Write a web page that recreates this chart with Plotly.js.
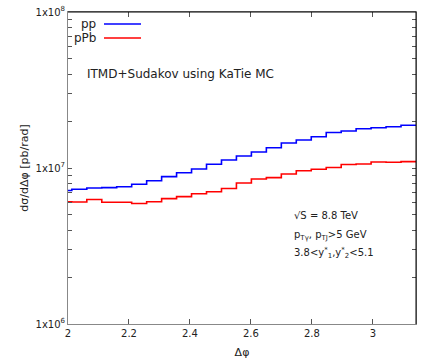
<!DOCTYPE html>
<html>
<head>
<meta charset="utf-8">
<script src="https://cdn.plot.ly/plotly-3.0.1.min.js"></script>
<style>html,body{margin:0;padding:0;background:#fff;}#chart{width:436px;height:363px;}</style>
</head>
<body>
<div id="chart"></div>
<script>
// Bin edges in Δφ (bins of width π/64)
const binEdges = [1.9635, 2.0126, 2.0617, 2.1108, 2.1598, 2.2089, 2.2580, 2.3071, 2.3562, 2.4053,
  2.4544, 2.5035, 2.5525, 2.6016, 2.6507, 2.6998, 2.7489, 2.7980, 2.8471, 2.8962,
  2.9452, 2.9943, 3.0434, 3.0925, 3.1416];
// dσ/dΔφ [pb/rad] per bin
const ppValues = [7.18e6, 7.30e6, 7.44e6, 7.48e6, 7.59e6, 7.86e6, 8.29e6, 8.80e6, 9.33e6, 9.85e6,
  1.056e7, 1.125e7, 1.194e7, 1.266e7, 1.349e7, 1.446e7, 1.512e7, 1.587e7, 1.689e7, 1.727e7,
  1.786e7, 1.813e7, 1.839e7, 1.878e7];
const pPbValues = [6.08e6, 6.06e6, 6.28e6, 6.03e6, 6.03e6, 5.92e6, 6.08e6, 6.36e6, 6.55e6, 6.84e6,
  7.05e6, 7.39e6, 8.01e6, 8.50e6, 8.67e6, 9.15e6, 9.61e6, 9.81e6, 1.007e7, 1.053e7,
  1.061e7, 1.093e7, 1.088e7, 1.098e7];
const seriesNames = ["pp", "pPb"];
const seriesColors = ["#0000ff", "#ff0000"];
const xTickVals = [2, 2.2, 2.4, 2.6, 2.8, 3];
const xTickText = ["2", "2.2", "2.4", "2.6", "2.8", "3"];
const yMajor = [1e6, 1e7, 1e8];
const yMajorText = ["1x10<sup>6</sup>", "1x10<sup>7</sup>", "1x10<sup>8</sup>"];
const infoLines = ["√S = 8.8 TeV", "p<sub>Tγ</sub>, p<sub>TJ</sub>&gt;5 GeV", "3.8&lt;y<sup>*</sup><sub>1</sub>,y<sup>*</sup><sub>2</sub>&lt;5.1"];
const titleText = "ITMD+Sudakov using KaTie MC";

// y tick values incl. minor ticks
const yTickVals = [], yTickText = [];
for (let d = 6; d <= 8; d++) {
  for (let m = 1; m <= 9; m++) {
    const v = m * Math.pow(10, d);
    if (v > 1e8) break;
    yTickVals.push(v);
    const idx = yMajor.indexOf(v);
    yTickText.push(idx >= 0 ? yMajorText[idx] : "");
  }
}

function stepY(vals) { return vals.concat([vals[vals.length - 1]]); }

const traces = [ppValues, pPbValues].map((vals, i) => ({
  x: binEdges, y: stepY(vals), type: "scatter", mode: "lines",
  line: {shape: "hv", color: seriesColors[i], width: 1.6},
  name: seriesNames[i], showlegend: false, hoverinfo: "skip"
}));

const W = 436, H = 363, L = 68, R = 20, T = 12, B = 39;
const pw = W - L - R, ph = H - T - B;
const px = v => (v - L) / pw;
const py = v => (H - B - v) / ph;
const font = "DejaVu Sans, sans-serif";
const txt = "#222";

const shapes = [
  {type: "line", xref: "paper", yref: "paper", x0: 0, x1: 1, y0: 1, y1: 1, line: {color: "#000", width: 1}, layer: "above"},
  {type: "line", xref: "paper", yref: "paper", x0: 1, x1: 1, y0: 0, y1: 1, line: {color: "#000", width: 1}, layer: "above"},
  {type: "line", xref: "paper", yref: "paper", x0: px(104), x1: px(141), y0: py(24), y1: py(24), line: {color: seriesColors[0], width: 1.6}},
  {type: "line", xref: "paper", yref: "paper", x0: px(104), x1: px(141), y0: py(38), y1: py(38), line: {color: seriesColors[1], width: 1.6}}
];

const annotations = [
  {xref: "paper", yref: "paper", x: px(98), y: py(24), xanchor: "right", yanchor: "middle", text: seriesNames[0], showarrow: false, font: {family: font, size: 12, color: txt}},
  {xref: "paper", yref: "paper", x: px(98), y: py(38), xanchor: "right", yanchor: "middle", text: seriesNames[1], showarrow: false, font: {family: font, size: 12, color: txt}},
  {xref: "paper", yref: "paper", x: px(85), y: py(74), xanchor: "left", yanchor: "middle", text: titleText, showarrow: false, font: {family: font, size: 12, color: txt}},
  {xref: "paper", yref: "paper", x: px(292), y: py(215), xanchor: "left", yanchor: "middle", text: infoLines[0], showarrow: false, font: {family: font, size: 10, color: txt}},
  {xref: "paper", yref: "paper", x: px(292), y: py(235), xanchor: "left", yanchor: "middle", text: infoLines[1], showarrow: false, font: {family: font, size: 10, color: txt}},
  {xref: "paper", yref: "paper", x: px(292), y: py(253), xanchor: "left", yanchor: "middle", text: infoLines[2], showarrow: false, font: {family: font, size: 10, color: txt}}
];

const layout = {
  width: W, height: H,
  margin: {l: L, r: R, t: T, b: B, pad: 0},
  paper_bgcolor: "#fff", plot_bgcolor: "#fff",
  font: {family: font, size: 10, color: txt},
  showlegend: false,
  xaxis: {
    range: [2, Math.PI], tickmode: "array", tickvals: xTickVals, ticktext: xTickText,
    ticks: "inside", ticklen: 5, tickcolor: "#555", showline: true, linecolor: "#888", linewidth: 1,
    mirror: "ticks", showgrid: false, zeroline: false,
    tickfont: {family: font, size: 10, color: txt},
    title: {text: "Δφ", font: {family: font, size: 11, color: txt}, standoff: 10},
    automargin: false
  },
  yaxis: {
    type: "log", range: [6, 8], tickmode: "array", tickvals: yTickVals, ticktext: yTickText,
    ticks: "inside", ticklen: 4, tickcolor: "#555", showline: true, linecolor: "#888", linewidth: 1,
    mirror: "ticks", showgrid: false, zeroline: false,
    tickfont: {family: font, size: 10, color: txt},
    title: {text: "dσ/dΔφ [pb/rad]", font: {family: font, size: 11, color: txt}, standoff: 4},
    automargin: false
  },
  shapes: shapes,
  annotations: annotations
};

Plotly.newPlot("chart", traces, layout, {staticPlot: true, displayModeBar: false});
</script>
</body>
</html>
